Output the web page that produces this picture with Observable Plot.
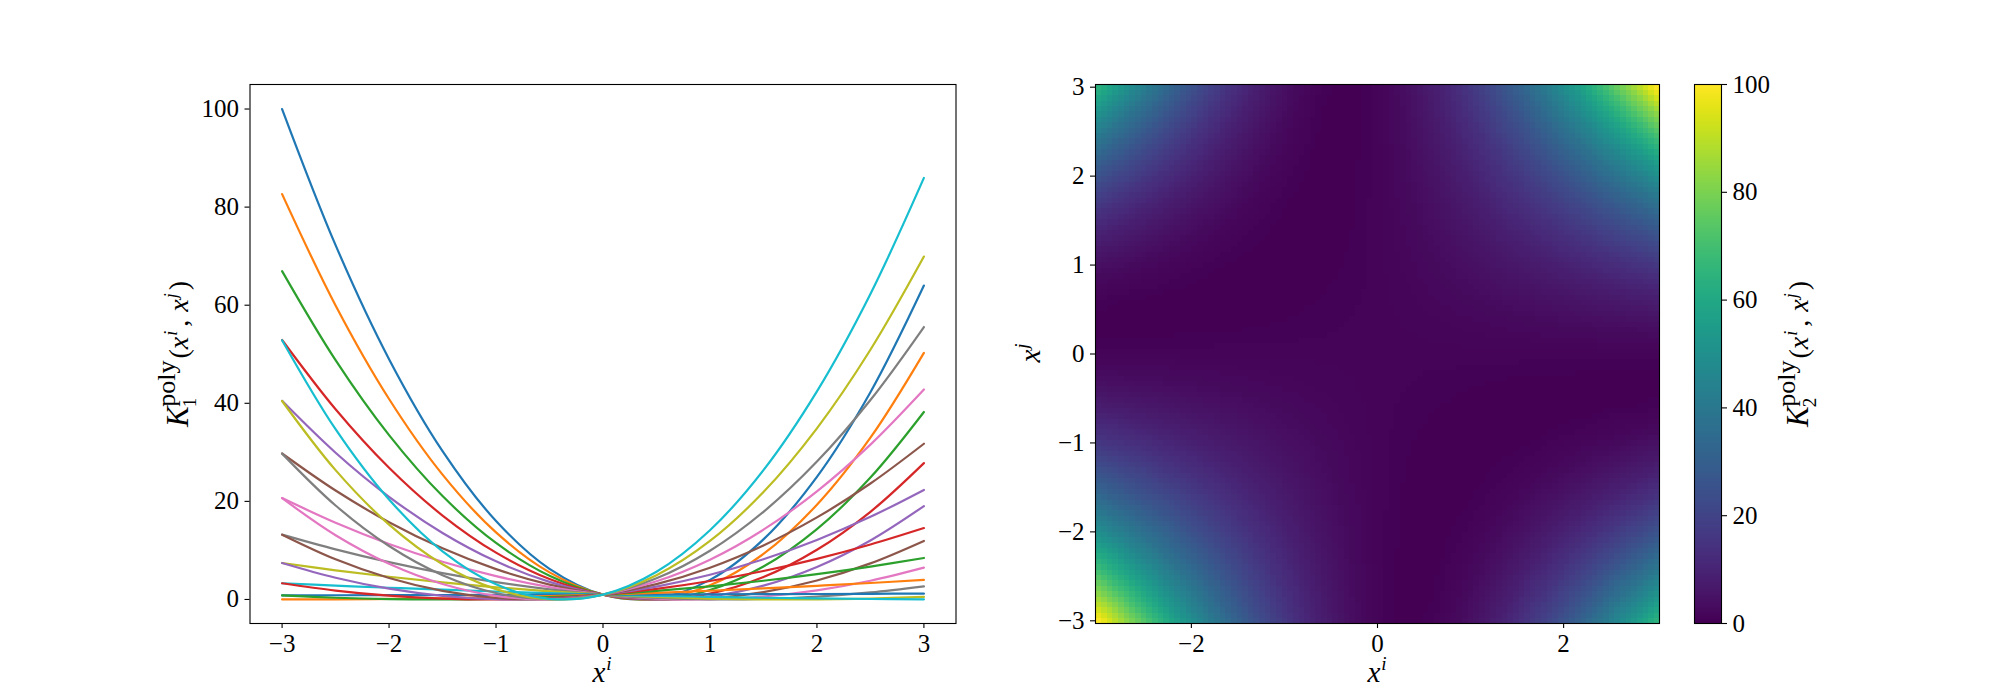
<!DOCTYPE html>
<html>
<head>
<meta charset="utf-8">
<script src="https://cdn.jsdelivr.net/npm/d3@7"></script>
<script src="https://cdn.jsdelivr.net/npm/@observablehq/plot@0.6"></script>
<style>
html,body{margin:0;padding:0;background:#fff}
#stage{position:relative;width:2000px;height:700px;overflow:hidden}
#stage svg{position:absolute;top:0;background:transparent;overflow:visible}
</style>
</head>
<body>
<div id="stage"></div>
<script>
const tab10 = ["#1f77b4","#ff7f0e","#2ca02c","#d62728","#9467bd","#8c564b","#e377c2","#7f7f7f","#bcbd22","#17becf"];
const lineX = [-3,-2.5,-2,-1.5,-1,-0.5,0,0.5,1,1.5,2,2.5,3];
const lineRows = [
[100,72.25,49,30.25,16,6.25,1,0.25,4,12.25,25,42.25,64],
[82.65,59.95,40.88,25.46,13.67,5.52,1,0.12,2.88,9.28,19.31,32.98,50.28],
[66.95,48.79,33.5,21.08,11.52,4.83,1,0.04,1.94,6.71,14.35,24.85,38.22],
[52.9,38.78,26.85,17.11,9.55,4.18,1,0,1.19,4.56,10.13,17.87,27.8],
[40.5,29.92,20.94,13.56,7.77,3.59,1,0.01,0.62,2.83,6.64,12.04,19.04],
[29.76,22.21,15.76,10.42,6.18,3.04,1,0.07,0.24,1.51,3.88,7.36,11.94],
[20.67,15.64,11.32,7.69,4.76,2.53,1,0.17,0.03,0.6,1.86,3.82,6.48],
[13.23,10.22,7.61,5.38,3.53,2.07,1,0.31,0.01,0.1,0.57,1.43,2.68],
[7.44,5.95,4.63,3.47,2.48,1.66,1,0.51,0.18,0.02,0.02,0.19,0.53],
[3.31,2.83,2.39,1.99,1.62,1.29,1,0.75,0.53,0.35,0.21,0.1,0.03],
[0.83,0.86,0.88,0.91,0.94,0.97,1,1.03,1.06,1.09,1.12,1.16,1.19],
[0,0.03,0.11,0.25,0.44,0.69,1,1.36,1.78,2.25,2.78,3.36,4],
[0.82,0.35,0.07,0,0.13,0.47,1,1.74,2.68,3.82,5.16,6.71,8.46],
[3.3,1.82,0.77,0.17,0,0.28,1,2.16,3.76,5.8,8.28,11.21,14.57],
[7.43,4.43,2.2,0.74,0.06,0.14,1,2.63,5.03,8.2,12.14,16.85,22.34],
[13.21,8.19,4.37,1.74,0.3,0.05,1,3.14,6.48,11.01,16.73,23.64,31.75],
[20.65,13.1,7.27,3.14,0.72,0.01,1,3.7,8.11,14.23,22.05,31.58,42.82],
[29.74,19.16,10.9,4.96,1.32,0.01,1,4.31,9.93,17.86,28.11,40.67,55.55],
[40.47,26.37,15.27,7.19,2.11,0.05,1,4.96,11.93,21.91,34.9,50.91,69.92],
[52.87,34.72,20.38,9.83,3.09,0.14,1,5.66,14.11,26.37,42.43,62.29,85.95]
];
const heatAxis = [-3,-2.7,-2.4,-2.1,-1.8,-1.5,-1.2,-0.9,-0.6,-0.3,0,0.3,0.6,0.9,1.2,1.5,1.8,2.1,2.4,2.7,3];
const heatRows = [
[100,82.81,67.24,53.29,40.96,30.25,21.16,13.69,7.84,3.61,1,0.01,0.64,2.89,6.76,12.25,19.36,28.09,38.44,50.41,64],
[82.81,68.72,55.95,44.49,34.34,25.5,17.98,11.76,6.86,3.28,1,0.04,0.38,2.04,5.02,9.3,14.9,21.81,30.03,39.56,50.41],
[67.24,55.95,45.7,36.48,28.3,21.16,15.05,9.99,5.95,2.96,1,0.08,0.19,1.35,3.53,6.76,11.02,16.32,22.66,30.03,38.44],
[53.29,44.49,36.48,29.27,22.85,17.22,12.39,8.35,5.11,2.66,1,0.14,0.07,0.79,2.31,4.62,7.73,11.63,16.32,21.81,28.09],
[40.96,34.34,28.3,22.85,17.98,13.69,9.99,6.86,4.33,2.37,1,0.21,0.01,0.38,1.35,2.89,5.02,7.73,11.02,14.9,19.36],
[30.25,25.5,21.16,17.22,13.69,10.56,7.84,5.52,3.61,2.1,1,0.3,0.01,0.12,0.64,1.56,2.89,4.62,6.76,9.3,12.25],
[21.16,17.98,15.05,12.39,9.99,7.84,5.95,4.33,2.96,1.85,1,0.41,0.08,0.01,0.19,0.64,1.35,2.31,3.53,5.02,6.76],
[13.69,11.76,9.99,8.35,6.86,5.52,4.33,3.28,2.37,1.61,1,0.53,0.21,0.04,0.01,0.12,0.38,0.79,1.35,2.04,2.89],
[7.84,6.86,5.95,5.11,4.33,3.61,2.96,2.37,1.85,1.39,1,0.67,0.41,0.21,0.08,0.01,0.01,0.07,0.19,0.38,0.64],
[3.61,3.28,2.96,2.66,2.37,2.1,1.85,1.61,1.39,1.19,1,0.83,0.67,0.53,0.41,0.3,0.21,0.14,0.08,0.04,0.01],
[1,1,1,1,1,1,1,1,1,1,1,1,1,1,1,1,1,1,1,1,1],
[0.01,0.04,0.08,0.14,0.21,0.3,0.41,0.53,0.67,0.83,1,1.19,1.39,1.61,1.85,2.1,2.37,2.66,2.96,3.28,3.61],
[0.64,0.38,0.19,0.07,0.01,0.01,0.08,0.21,0.41,0.67,1,1.39,1.85,2.37,2.96,3.61,4.33,5.11,5.95,6.86,7.84],
[2.89,2.04,1.35,0.79,0.38,0.12,0.01,0.04,0.21,0.53,1,1.61,2.37,3.28,4.33,5.52,6.86,8.35,9.99,11.76,13.69],
[6.76,5.02,3.53,2.31,1.35,0.64,0.19,0.01,0.08,0.41,1,1.85,2.96,4.33,5.95,7.84,9.99,12.39,15.05,17.98,21.16],
[12.25,9.3,6.76,4.62,2.89,1.56,0.64,0.12,0.01,0.3,1,2.1,3.61,5.52,7.84,10.56,13.69,17.22,21.16,25.5,30.25],
[19.36,14.9,11.02,7.73,5.02,2.89,1.35,0.38,0.01,0.21,1,2.37,4.33,6.86,9.99,13.69,17.98,22.85,28.3,34.34,40.96],
[28.09,21.81,16.32,11.63,7.73,4.62,2.31,0.79,0.07,0.14,1,2.66,5.11,8.35,12.39,17.22,22.85,29.27,36.48,44.49,53.29],
[38.44,30.03,22.66,16.32,11.02,6.76,3.53,1.35,0.19,0.08,1,2.96,5.95,9.99,15.05,21.16,28.3,36.48,45.7,55.95,67.24],
[50.41,39.56,30.03,21.81,14.9,9.3,5.02,2.04,0.38,0.04,1,3.28,6.86,11.76,17.98,25.5,34.34,44.49,55.95,68.72,82.81],
[64,50.41,38.44,28.09,19.36,12.25,6.76,2.89,0.64,0.01,1,3.61,7.84,13.69,21.16,30.25,40.96,53.29,67.24,82.81,100]
];
const leftXTicks = [-3,-2,-1,0,1,2,3];
const leftYTicks = [0,20,40,60,80,100];
const heatXTicks = [-2,0,2];
const heatYTicks = [-3,-2,-1,0,1,2,3];
const barTicks = [0,20,40,60,80,100];
const barLevels = [0,100];
const barSides = [0,1];

const FONT = "'Liberation Serif', serif";
const fmt = d => String(d).replace("-", "\u2212");
const stage = document.getElementById("stage");

const lineData = lineRows.flatMap((row, k) => row.map((v, i) => ({x: lineX[i], y: v, k})));
const heatData = heatRows.flatMap((row, r) => row.map((v, c) => ({x: heatAxis[c], y: heatAxis[r], v})));
const barData = barLevels.flatMap(v => barSides.map(s => ({s, v})));

const common = {height: 700, style: {fontFamily: FONT, fontSize: "25px", color: "#000", background: "transparent"}};
const axisOpts = {tickSize: 5, tickFormat: fmt, label: null, fontSize: 25, strokeWidth: 1.1};

const left = Plot.plot({
  ...common, width: 1000, marginLeft: 249.5, marginRight: 44.5, marginTop: 84, marginBottom: 77,
  x: {domain: [-3.3, 3.3]},
  y: {domain: [-4.9, 105]},
  marks: [
    Plot.line(lineData, {x: "x", y: "y", z: "k", stroke: d => tab10[d.k % 10], strokeWidth: 2.2, curve: "catmull-rom"}),
    Plot.frame({stroke: "#000", strokeWidth: 1.1}),
    Plot.axisX(leftXTicks, {...axisOpts, tickPadding: 6}),
    Plot.axisY(leftYTicks, {...axisOpts, tickPadding: 6})
  ]
});
left.style.left = "0px";
stage.appendChild(left);

const heat = Plot.plot({
  ...common, width: 700, marginLeft: 95, marginRight: 41, marginTop: 84, marginBottom: 77,
  x: {domain: [-3.0303, 3.0303]},
  y: {domain: [-3.0303, 3.0303]},
  color: {type: "linear", scheme: "viridis", domain: [0, 100]},
  marks: [
    Plot.raster(heatData, {x: "x", y: "y", fill: "v", interpolate: "barycentric", width: 100, height: 100,
      x1: -3.0303, x2: 3.0303, y1: -3.0303, y2: 3.0303, imageRendering: "pixelated"}),
    Plot.frame({stroke: "#000", strokeWidth: 1.1}),
    Plot.axisX(heatXTicks, {...axisOpts, tickPadding: 6}),
    Plot.axisY(heatYTicks, {...axisOpts, tickPadding: 6})
  ]
});
heat.style.left = "1000px";
stage.appendChild(heat);

const bar = Plot.plot({
  ...common, width: 300, marginLeft: 94, marginRight: 179, marginTop: 84, marginBottom: 77,
  x: {domain: [0, 1], axis: null},
  y: {domain: [0, 100]},
  color: {type: "linear", scheme: "viridis", domain: [0, 100]},
  marks: [
    Plot.raster(barData, {x: "s", y: "v", fill: "v", interpolate: "barycentric", width: 1, height: 256,
      x1: 0, x2: 1, y1: 0, y2: 100}),
    Plot.frame({stroke: "#000", strokeWidth: 1.1}),
    Plot.axisY(barTicks, {...axisOpts, anchor: "right", tickPadding: 6})
  ]
});
bar.style.left = "1600px";
stage.appendChild(bar);

function label(svg, x, y, rotate, parts) {
  const t = d3.select(svg).append("text")
    .attr("transform", `translate(${x},${y})` + (rotate ? " rotate(-90)" : ""))
    .attr("text-anchor", "middle").attr("font-family", FONT).attr("fill", "#000");
  for (const [s, size, style, dy, dx] of parts) {
    t.append("tspan").text(s).attr("font-size", size).attr("font-style", style ? "italic" : "normal")
      .attr("dy", dy || 0).attr("dx", dx || 0);
  }
}
const xi = [["x", 29, 1], ["i", 19, 1, -12, 1]];
const xj = [["x", 29, 1], ["j", 19, 1, -12, 1]];
const kernel = sub => [
  ["K", 31, 1], [sub, 19, 0, 8, -1], ["poly", 26, 0, -21, -9],
  ["(", 28, 0, 13, 2], ["x", 28, 1], ["i", 18, 1, -11, 1], [",", 28, 0, 11, 4], ["x", 28, 1, 0, 8], ["j", 18, 1, -11, 1], [")", 28, 0, 11, 3]
];
label(left, 602, 682, false, xi);
label(heat, 377, 682, false, xi);
label(left, 188, 354, true, kernel("1"));
label(heat, 40, 353, true, xj);
label(bar, 208, 354, true, kernel("2"));
</script>
</body>
</html>
